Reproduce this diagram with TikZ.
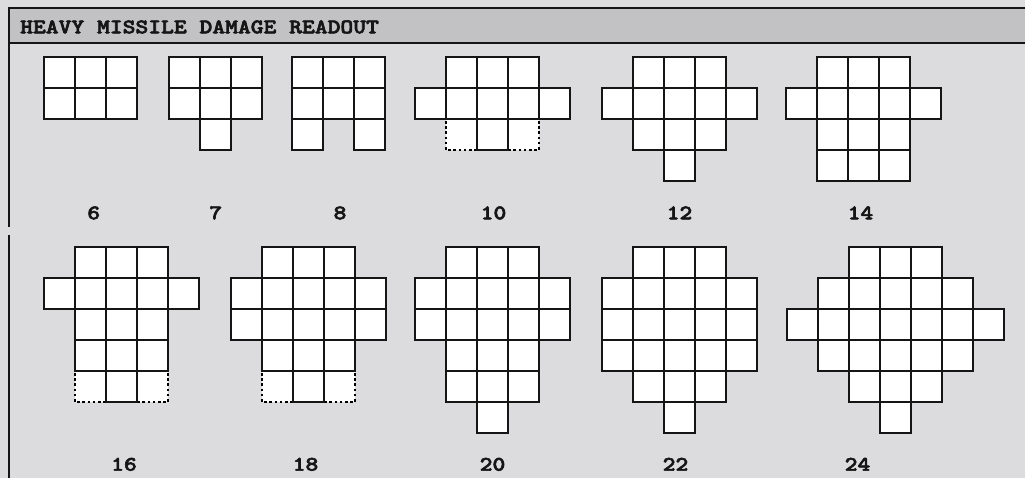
\documentclass[tikz,border=0pt]{standalone}
\usepackage{fontspec}
\newfontfamily\cour{lmmonolt10-bold.otf}[FakeBold=2.5]
\definecolor{bg}{HTML}{DCDCDE}
\definecolor{hdr}{HTML}{C2C2C4}
\definecolor{ink}{HTML}{151515}
\tikzset{
  cell/.style={draw=ink, fill=white, line width=2.4pt},
  dotline/.style={draw=black, line width=2.6pt, dash pattern=on 2.6pt off 2.6pt},
  frame/.style={draw=ink, line width=2.6pt},
  lbl/.style={font=\cour\fontsize{24.4}{24}\selectfont, text=ink, anchor=base, inner sep=0pt, yscale=0.85, transform shape},
}
\newcommand\sq{31}
\newcommand\grp[3]{%
  \begin{scope}[shift={(#1,#2)}]
    \foreach \cc/\rr in {#3} \draw[cell] ({\cc*\sq},{\rr*\sq}) rectangle ++(\sq,\sq);
  \end{scope}}
\newcommand\dotrow[3]{%
  \begin{scope}[shift={(#1,#2)}]
    \fill[white] ({1*\sq},{#3*\sq}) rectangle ++(\sq,\sq);
    \fill[white] ({3*\sq},{#3*\sq}) rectangle ++(\sq,\sq);
    \draw[dotline] ({1*\sq},{#3*\sq+2}) -- ({1*\sq},{(#3+1)*\sq}) -- ({2*\sq},{(#3+1)*\sq});
    \draw[dotline] ({4*\sq},{#3*\sq+2}) -- ({4*\sq},{(#3+1)*\sq}) -- ({3*\sq},{(#3+1)*\sq});
  \end{scope}}
\begin{document}
\begin{tikzpicture}[x=1pt,y=-1pt]
\useasboundingbox (0,0) rectangle (1025,478);
\fill[bg] (0,0) rectangle (1025,478);
% header
\fill[hdr] (9,8) rectangle (1025,43);
\draw[frame] (1025,8) -- (9,8) -- (9,227);
\draw[frame] (9,43) -- (1025,43);
\draw[frame] (9,235) -- (9,478);
\node[lbl, anchor=base west] (title) at (20,33.3) {HEAVY MISSILE DAMAGE READOUT};
% row 1
\grp{44}{57}{0/0,1/0,2/0,0/1,1/1,2/1}
\grp{169}{57}{0/0,1/0,2/0,0/1,1/1,2/1,1/2}
\grp{292}{57}{0/0,1/0,2/0,0/1,1/1,2/1,0/2,2/2}
\dotrow{415}{57}{2}
\grp{415}{57}{1/0,2/0,3/0,0/1,1/1,2/1,3/1,4/1,2/2}
\grp{602}{57}{1/0,2/0,3/0,0/1,1/1,2/1,3/1,4/1,1/2,2/2,3/2,2/3}
\grp{786}{57}{1/0,2/0,3/0,0/1,1/1,2/1,3/1,4/1,1/2,2/2,3/2,1/3,2/3,3/3}
% row 2
\dotrow{44}{247}{4}
\grp{44}{247}{1/0,2/0,3/0,0/1,1/1,2/1,3/1,4/1,1/2,2/2,3/2,1/3,2/3,3/3,2/4}
\dotrow{231}{247}{4}
\grp{231}{247}{1/0,2/0,3/0,0/1,1/1,2/1,3/1,4/1,0/2,1/2,2/2,3/2,4/2,1/3,2/3,3/3,2/4}
\grp{415}{247}{1/0,2/0,3/0,0/1,1/1,2/1,3/1,4/1,0/2,1/2,2/2,3/2,4/2,1/3,2/3,3/3,1/4,2/4,3/4,2/5}
\grp{602}{247}{1/0,2/0,3/0,0/1,1/1,2/1,3/1,4/1,0/2,1/2,2/2,3/2,4/2,0/3,1/3,2/3,3/3,4/3,1/4,2/4,3/4,2/5}
\grp{787}{247}{2/0,3/0,4/0,1/1,2/1,3/1,4/1,5/1,0/2,1/2,2/2,3/2,4/2,5/2,6/2,1/3,2/3,3/3,4/3,5/3,2/4,3/4,4/4,3/5}
% labels
\node[lbl] (l6) at (93.7,219.3) {6};
\node[lbl] (l7) at (215.7,219.3) {7};
\node[lbl] (l8) at (340,219.3) {8};
\node[lbl] (l10) at (493.5,219.3) {10};
\node[lbl] (l12) at (679.5,219.3) {12};
\node[lbl] (l14) at (860.5,219.3) {14};
\node[lbl] (l16) at (124,470.7) {16};
\node[lbl] (l18) at (305.5,470.7) {18};
\node[lbl] (l20) at (492.5,470.7) {20};
\node[lbl] (l22) at (675.5,470.7) {22};
\node[lbl] (l24) at (857.5,470.7) {24};
\end{tikzpicture}
\end{document}
